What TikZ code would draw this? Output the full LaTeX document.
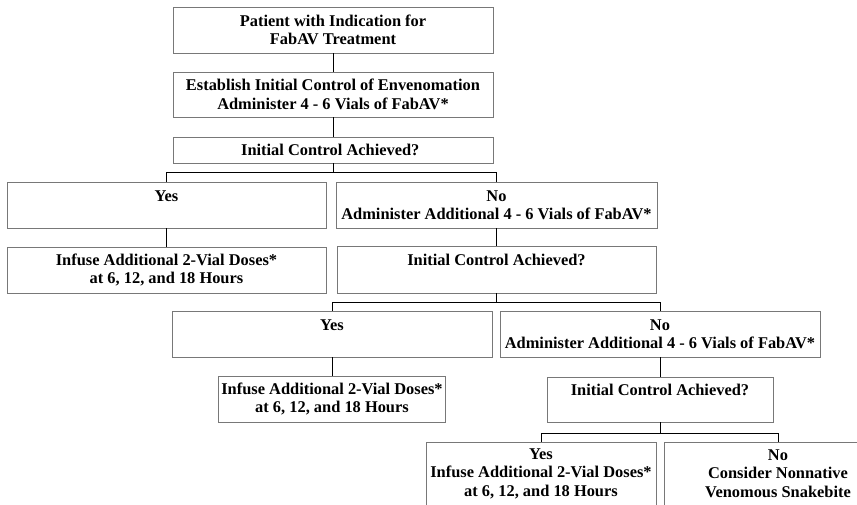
\documentclass[tikz,border=0pt]{standalone}
\usepackage{fontspec}
\setmainfont{Liberation Serif}
\usepackage{tikz}
\usetikzlibrary{positioning,calc}
\usepackage{xcolor}
\definecolor{boxgray}{RGB}{120,120,120}
\newcommand{\flowfont}{\fontsize{16.4}{18.5}\selectfont\bfseries}

\tikzset{
    stepbox/.style={rectangle,draw=boxgray,line width=0.5pt,inner sep=0pt,align=center,font=\flowfont},
    link/.style={draw=black,line width=0.5pt}
}

\begin{document}
\begin{tikzpicture}[x=1pt,y=-1pt]
        \clip (0,0) rectangle (857,504);

        % Start and first dose
        \node[stepbox,minimum width=320,minimum height=46] (patient) at (333,30) {
            Patient with Indication for\\ FabAV Treatment
        };
        \node[stepbox,minimum width=320,minimum height=45] (establish) at (333,94.5) {
            Establish Initial Control of Envenomation\\ Administer 4 - 6 Vials of FabAV*
        };
        \node[stepbox,minimum width=320,minimum height=26] (check1) at (333,150) {
            Initial Control Achieved?
        };

        % First branch
        \node[stepbox,minimum width=319,minimum height=46] (yes1) at (166.5,205) {
            Yes\\ \mbox{}
        };
        \node[stepbox,minimum width=321,minimum height=46] (no1) at (496.5,205) {
            No\\ Administer Additional 4 - 6 Vials of FabAV*
        };
        \node[stepbox,minimum width=319,minimum height=46] (infuse1) at (166.5,270) {
            Infuse Additional 2-Vial Doses*\\ at 6, 12, and 18 Hours
        };
        \node[stepbox,minimum width=319,minimum height=47] (check2) at (496.5,269.5) {
            Initial Control Achieved?\\ \mbox{}
        };

        % Second branch
        \node[stepbox,minimum width=320,minimum height=46] (yes2) at (332,334) {
            Yes\\ \mbox{}
        };
        \node[stepbox,minimum width=320,minimum height=46] (no2) at (660,334) {
            No\\ Administer Additional 4 - 6 Vials of FabAV*
        };
        \node[stepbox,minimum width=227,minimum height=46] (infuse2) at (332,399) {
            Infuse Additional 2-Vial Doses*\\ at 6, 12, and 18 Hours
        };
        \node[stepbox,minimum width=226,minimum height=45] (check3) at (660,399.5) {
            Initial Control Achieved?\\ \mbox{}
        };

        % Third branch
        \node[stepbox,minimum width=230,minimum height=63] (yes3) at (541,473.5) {
            Yes\\ Infuse Additional 2-Vial Doses*\\ at 6, 12, and 18 Hours
        };
        \node[stepbox,minimum width=228,minimum height=63] (no3) at (778,473.5) {
            No\\ Consider Nonnative\\ Venomous Snakebite
        };

        % Connectors
        \draw[link] (patient.south) -- (establish.north);
        \draw[link] (establish.south) -- (check1.north);
        \draw[link] (check1.south) -- ++(0,9) coordinate (split1);
        \draw[link] (yes1.north) |- (split1) -| (no1.north);
        \draw[link] (yes1.south) -- (infuse1.north);
        \draw[link] (no1.south) -- (check2.north);
        \draw[link] (check2.south) -- ++(0,9) coordinate (split2);
        \draw[link] (yes2.north) |- (split2) -| (no2.north);
        \draw[link] (yes2.south) -- (infuse2.north);
        \draw[link] (no2.south) -- (check3.north);
        \draw[link] (check3.south) -- ++(0,11) coordinate (split3);
        \draw[link] (yes3.north) |- (split3) -| (no3.north);
    \end{tikzpicture}
\end{document}
